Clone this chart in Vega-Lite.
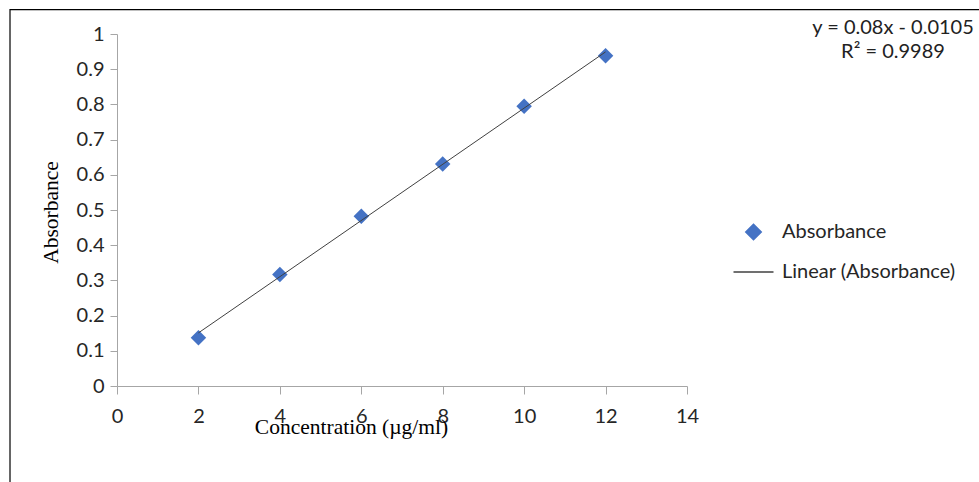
{
  "$schema": "https://vega.github.io/schema/vega-lite/v6.json",
  "width": 570,
  "height": 352,
  "autosize": "none",
  "padding": {"left": 117, "top": 34, "right": 292, "bottom": 96},
  "background": "white",
  "config": {
    "view": {"stroke": null},
    "axis": {
      "grid": false,
      "labelOverlap": false,
      "labelFlush": false,
      "labelFont": "Lato",
      "labelFontSize": 20,
      "labelColor": "#262626",
      "titleFont": "Liberation Serif",
      "titleFontSize": 21.5,
      "titleFontWeight": "normal",
      "titleColor": "#000000",
      "domainColor": "#a6a6a6",
      "tickColor": "#a6a6a6"
    },
    "axisX": {"labelPadding": 12, "tickSize": 8},
    "axisY": {"labelPadding": 6, "tickSize": 7}
  },
  "data": {
    "values": [
      {"Concentration": 2, "Absorbance": 0.137, "series": "Absorbance"},
      {"Concentration": 4, "Absorbance": 0.317, "series": "Absorbance"},
      {"Concentration": 6, "Absorbance": 0.482, "series": "Absorbance"},
      {"Concentration": 8, "Absorbance": 0.631, "series": "Absorbance"},
      {"Concentration": 10, "Absorbance": 0.795, "series": "Absorbance"},
      {"Concentration": 12, "Absorbance": 0.938, "series": "Absorbance"}
    ]
  },
  "layer": [
    {
      "mark": {"type": "point", "filled": true, "opacity": 1},
      "encoding": {
        "x": {
          "field": "Concentration",
          "type": "quantitative",
          "scale": {"domain": [0, 14], "nice": false, "zero": false},
          "axis": {"values": [0, 2, 4, 6, 8, 10, 12, 14], "title": "Concentration (µg/ml)", "titleX": 234, "titleY": 41, "titleBaseline": "middle", "titleAlign": "center"}
        },
        "y": {
          "field": "Absorbance",
          "type": "quantitative",
          "scale": {"domain": [0, 1], "nice": false},
          "axis": {"values": [0, 0.1, 0.2, 0.3, 0.4, 0.5, 0.6, 0.7, 0.8, 0.9, 1], "format": "~g", "title": "Absorbance", "titleX": -66, "titleY": 178, "titleBaseline": "middle", "titleAlign": "center"}
        },
        "color": {
          "field": "series",
          "type": "nominal",
          "scale": {"domain": ["Absorbance", "Linear (Absorbance)"], "range": ["#4472C4", "#404040"]},
          "legend": {
            "title": null,
            "orient": "none",
            "legendX": 615.5,
            "legendY": 188,
            "padding": 0,
            "rowPadding": 8,
            "symbolSize": 1600,
            "labelOffset": 7.5,
            "labelLimit": 400,
            "labelFont": "Lato",
            "labelFontSize": 20,
            "labelColor": "#262626",
            "encode": {
              "symbols": {
                "update": {
                  "stroke": {"signal": "datum.value === 'Absorbance' ? 'transparent' : '#404040'"},
                  "strokeWidth": {"value": 1}
                }
              }
            }
          }
        },
        "shape": {
          "field": "series",
          "type": "nominal",
          "scale": {"domain": ["Absorbance", "Linear (Absorbance)"], "range": ["diamond", "stroke"]}
        },
        "size": {
          "field": "series",
          "type": "nominal",
          "scale": {"domain": ["Absorbance", "Linear (Absorbance)"], "range": [240, 1600]}
        }
      }
    },
    {
      "transform": [{"regression": "Absorbance", "on": "Concentration"}],
      "mark": {"type": "line", "strokeWidth": 1, "clip": false},
      "encoding": {
        "x": {"field": "Concentration", "type": "quantitative", "axis": {"values": [0, 2, 4, 6, 8, 10, 12, 14], "title": "Concentration (µg/ml)", "titleX": 234, "titleY": 41, "titleBaseline": "middle", "titleAlign": "center"}},
        "y": {"field": "Absorbance", "type": "quantitative", "axis": {"values": [0, 0.1, 0.2, 0.3, 0.4, 0.5, 0.6, 0.7, 0.8, 0.9, 1], "format": "~g", "title": "Absorbance", "titleX": -66, "titleY": 178, "titleBaseline": "middle", "titleAlign": "center"}},
        "color": {"datum": "Linear (Absorbance)"}
      }
    },
    {
      "data": {"values": [{"label": "equation"}]},
      "mark": {"type": "text", "align": "center", "baseline": "middle", "font": "Lato", "fontSize": 20, "fontWeight": "normal", "fill": "#222222", "lineHeight": 24, "clip": false},
      "encoding": {
        "x": {"datum": 19.06, "type": "quantitative", "axis": {"values": [0, 2, 4, 6, 8, 10, 12, 14], "title": "Concentration (µg/ml)", "titleX": 234, "titleY": 41, "titleBaseline": "middle", "titleAlign": "center"}},
        "y": {"datum": 1.018, "type": "quantitative", "axis": {"values": [0, 0.1, 0.2, 0.3, 0.4, 0.5, 0.6, 0.7, 0.8, 0.9, 1], "format": "~g", "title": "Absorbance", "titleX": -66, "titleY": 178, "titleBaseline": "middle", "titleAlign": "center"}},
        "text": {"value": ["y = 0.08x - 0.0105", "R² = 0.9989"]}
      }
    },
    {
      "data": {"values": [{"label": "frame"}]},
      "mark": {"type": "rect", "fill": null, "stroke": "#000000", "strokeWidth": 1.2, "clip": false},
      "encoding": {
        "x": {"datum": -2.628, "type": "quantitative", "axis": {"values": [0, 2, 4, 6, 8, 10, 12, 14], "title": "Concentration (µg/ml)", "titleX": 234, "titleY": 41, "titleBaseline": "middle", "titleAlign": "center"}},
        "x2": {"datum": 22},
        "y": {"datum": 1.069, "type": "quantitative", "axis": {"values": [0, 0.1, 0.2, 0.3, 0.4, 0.5, 0.6, 0.7, 0.8, 0.9, 1], "format": "~g", "title": "Absorbance", "titleX": -66, "titleY": 178, "titleBaseline": "middle", "titleAlign": "center"}},
        "y2": {"datum": -0.35}
      }
    }
  ]
}
